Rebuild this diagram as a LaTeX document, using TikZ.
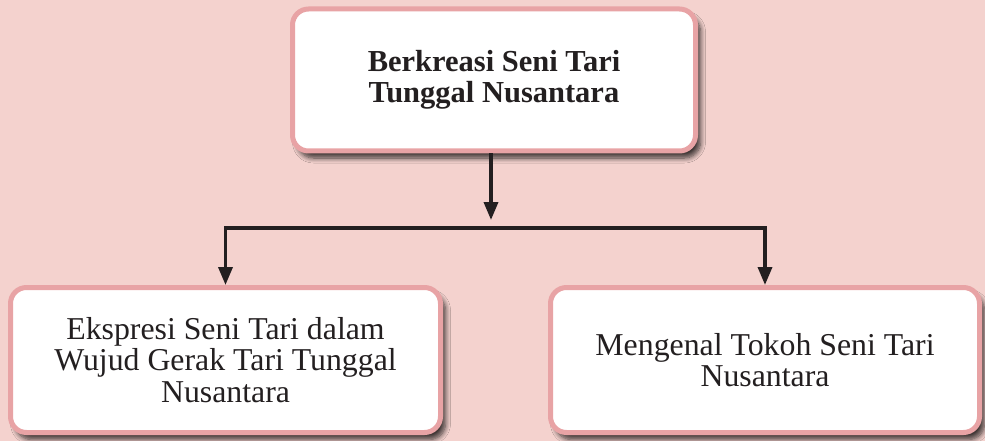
\documentclass[tikz,border=0pt]{standalone}
\usepackage{fontspec}
\setmainfont{Liberation Serif}
\usetikzlibrary{arrows.meta,shadows.blur}
\definecolor{bg}{HTML}{F4D2CE}
\definecolor{bord}{HTML}{E8A3A5}
\definecolor{ink}{HTML}{231F20}
\begin{document}
\begin{tikzpicture}[x=1pt,y=-1pt,
  box/.style={draw=bord, line width=5pt, fill=white, rounded corners=16pt,
    align=center, text=ink, inner sep=0pt,
    blur shadow={shadow xshift=5pt, shadow yshift=-7pt, shadow blur radius=5pt,
      shadow blur steps=8, shadow opacity=75}},
  conn/.style={draw=ink, line width=3.5pt},
  arr/.style={conn, -{Triangle[width=14pt,length=18pt]}}]
\fill[bg] (0,0) rectangle (985,441);
\useasboundingbox (0,0) rectangle (985,441);
\node[box, minimum width=403pt, minimum height=142pt,
  font=\fontsize{30.5}{31}\selectfont\bfseries] (top) at (494,80)
  {Berkreasi Seni Tari\\ Tunggal Nusantara};
\node[box, minimum width=430pt, minimum height=145pt,
  font=\fontsize{31.8}{31.5}\selectfont] (left) at (225.5,360)
  {Ekspresi Seni Tari dalam\\ Wujud Gerak Tari Tunggal\\ Nusantara};
\node[box, minimum width=429pt, minimum height=145pt,
  font=\fontsize{31.8}{31}\selectfont] (right) at (765,360)
  {Mengenal Tokoh Seni Tari\\ Nusantara};
\coordinate (split) at (491,228);
\draw[arr] (top.south -| split) -- ([yshift=8pt]split);
\draw[arr] (split) -| (left.north);
\draw[arr] (split) -| (right.north);
\end{tikzpicture}
\end{document}
